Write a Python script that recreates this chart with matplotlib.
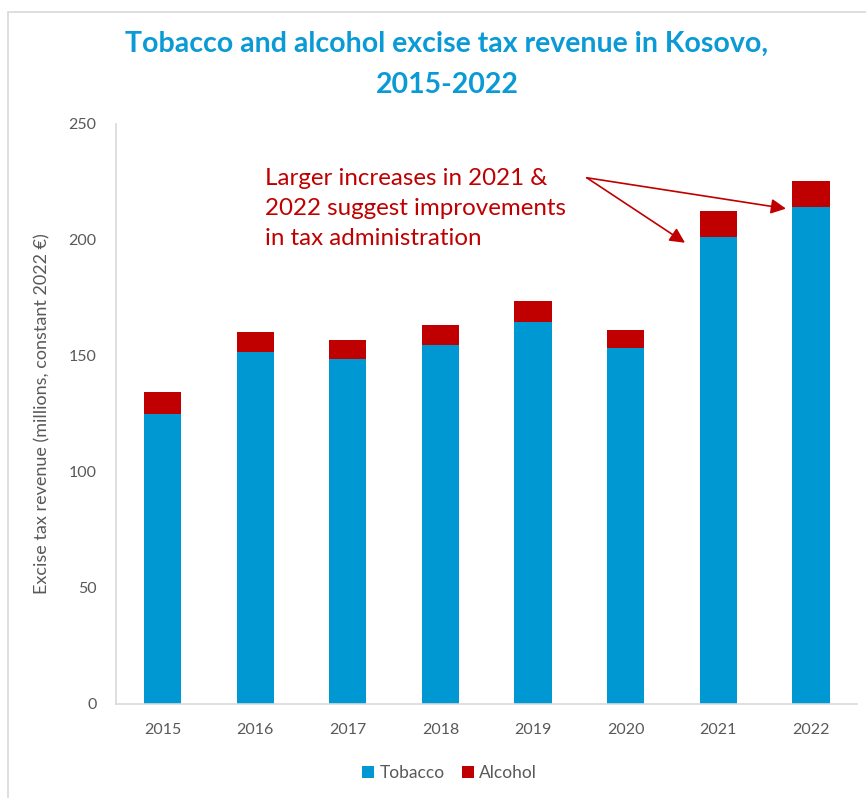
import matplotlib.pyplot as plt
from matplotlib.patches import Rectangle

plt.rcParams['font.family'] = ['Lato', 'DejaVu Sans']

years = ['2015', '2016', '2017', '2018', '2019', '2020', '2021', '2022']
tobacco = [124.9, 151.6, 148.6, 154.6, 164.5, 153.3, 201.3, 214.2]
alcohol = [9.5, 8.6, 8.4, 8.8, 9.2, 7.8, 11.1, 11.1]

blue = '#0098D3'
red = '#C00000'
grey = '#595959'

fig = plt.figure(figsize=(8.66, 7.98), dpi=100)
ax = fig.add_axes([0.134, 0.118, 0.856, 0.727])

# light frame around the whole chart area
fig.patches.append(Rectangle((0.0095, -0.01), 1.1, 0.995, transform=fig.transFigure,
                             fill=False, edgecolor='#D9D9D9', linewidth=1.2))

x = range(len(years))
ax.bar(x, tobacco, width=0.4, color=blue, label='Tobacco')
ax.bar(x, alcohol, width=0.4, bottom=tobacco, color=red, label='Alcohol')

ax.set_xlim(-0.5, 7.5)
ax.set_ylim(0, 250)
ax.set_yticks([0, 50, 100, 150, 200, 250])
ax.set_xticks(list(x))
ax.set_xticklabels(years)
ax.tick_params(length=0, colors=grey, labelsize=11.5)
ax.tick_params(axis='x', pad=14)
ax.tick_params(axis='y', pad=14)
for s in ['top', 'right']:
    ax.spines[s].set_visible(False)
for s in ['left', 'bottom']:
    ax.spines[s].set_color('#D9D9D9')
    ax.spines[s].set_linewidth(1.2)

ax.set_ylabel('Excise tax revenue (millions, constant 2022 €)', color=grey, fontsize=13)
ax.yaxis.set_label_coords(-0.088, 0.5)

fig.text(0.516, 0.919, 'Tobacco and alcohol excise tax revenue in Kosovo,\n2015-2022',
         ha='center', va='center', color='#0A9AD6', fontsize=20.5, fontweight='bold',
         linespacing=1.7)

ax.text(1.11, 231, 'Larger increases in 2021 &\n2022 suggest improvements\nin tax administration',
        color=red, fontsize=17.4, va='top', ha='left', linespacing=1.55)
for tip in [(5.64, 198.7), (6.73, 213.4)]:
    ax.annotate('', xy=tip, xytext=(4.58, 226.7),
                arrowprops=dict(arrowstyle='-|>,head_length=0.9,head_width=0.45',
                                color=red, lw=1.2, shrinkA=0, shrinkB=0))

ax.legend(loc='upper center', bbox_to_anchor=(0.45, -0.079), ncol=2, frameon=False,
          fontsize=12.5, handlelength=0.7, handleheight=0.7, handletextpad=0.3,
          columnspacing=1.0, labelcolor=grey)

fig.savefig('out.png', dpi=100)
